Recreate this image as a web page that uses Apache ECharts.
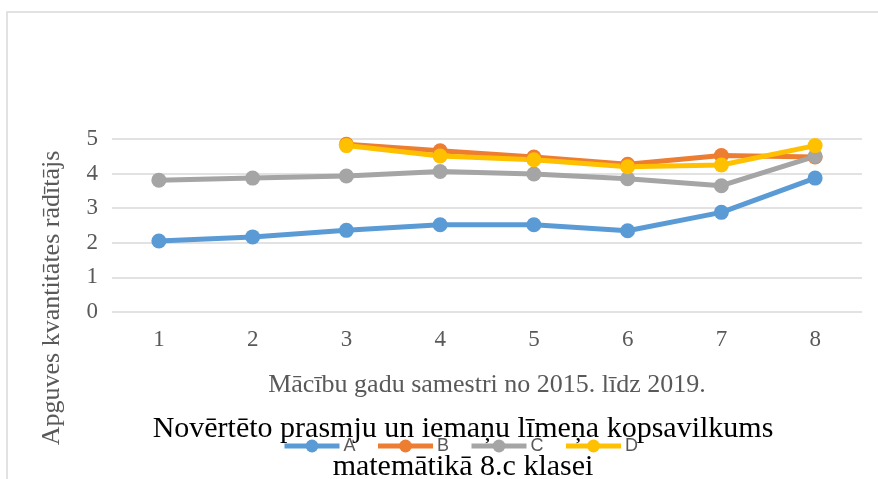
<!DOCTYPE html>
<html>
<head>
<meta charset="utf-8">
<script src="https://cdn.jsdelivr.net/npm/echarts@6/dist/echarts.min.js"></script>
<style>
  html, body { margin: 0; padding: 0; background: #fff; }
  #chart { width: 878px; height: 479px; }
</style>
</head>
<body>
<div id="chart"></div>
<script>
// ── Data ─────────────────────────────────────────────────────
const semesters = ['1', '2', '3', '4', '5', '6', '7', '8'];
const seriesA = [2.05, 2.17, 2.36, 2.52, 2.52, 2.35, 2.88, 3.87];
const seriesB = [null, null, 4.85, 4.66, 4.48, 4.27, 4.52, 4.48];
const seriesC = [3.81, 3.87, 3.93, 4.06, 3.99, 3.85, 3.65, 4.50];
const seriesD = [null, null, 4.81, 4.51, 4.40, 4.20, 4.25, 4.81];
const yTicks  = [0, 1, 2, 3, 4, 5];

const COLORS = { A: '#5B9BD5', B: '#ED7D31', C: '#A5A5A5', D: '#FFC000' };
const SERIF  = '"Liberation Serif", "DejaVu Serif", serif';

const chart = echarts.init(document.getElementById('chart'), null, { renderer: 'canvas' });

function lineSeries(name, data) {
  return {
    name, type: 'line', data,
    symbol: 'circle', symbolSize: 15,
    connectNulls: false,
    lineStyle: { width: 5, color: COLORS[name] },
    itemStyle: { color: COLORS[name] },
    emphasis: { disabled: true },
  };
}

chart.setOption({
  backgroundColor: '#fff',
  animation: false,
  graphic: [{
    type: 'rect', silent: true, z: -1,
    shape: { x: 7, y: 12, width: 900, height: 500 },
    style: { fill: 'none', stroke: '#D9D9D9', lineWidth: 1.5 },
  }],
  title: {
    text: 'Novērtēto prasmju un iemaņu līmeņa kopsavilkums\nmatemātikā 8.c klasei',
    left: 458, top: 405, textAlign: 'center',
    textStyle: { fontFamily: SERIF, fontSize: 30, fontWeight: 'normal', color: '#000', lineHeight: 38 },
  },
  legend: {
    data: ['A', 'B', 'C', 'D'],
    left: 282, top: 437, padding: 0,
    itemWidth: 55, itemHeight: 16, itemGap: 20,
    lineStyle: { width: 5 },
    textStyle: { fontFamily: '"Liberation Sans", sans-serif', fontSize: 18, color: '#595959', padding: [0, 0, 0, -1] },
  },
  grid: { left: 112, right: 16, top: 139, bottom: 167 },
  xAxis: {
    type: 'category', data: semesters, boundaryGap: true,
    name: 'Mācību gadu samestri no 2015. līdz 2019.',
    nameLocation: 'middle', nameGap: 60,
    nameTextStyle: { fontFamily: SERIF, fontSize: 26, color: '#595959' },
    axisLine: { show: false }, axisTick: { show: false },
    axisLabel: { fontFamily: SERIF, fontSize: 23, color: '#595959', margin: 16 },
  },
  yAxis: {
    type: 'value', min: yTicks[0], max: yTicks[yTicks.length - 1], interval: 1,
    name: 'Apguves kvantitātes rādītājs',
    nameLocation: 'middle', nameGap: 47, nameRotate: 90,
    nameTextStyle: { fontFamily: SERIF, fontSize: 26, color: '#595959', padding: [0, 0, 0, -145] },
    axisLine: { show: false }, axisTick: { show: false },
    axisLabel: { fontFamily: SERIF, fontSize: 23, color: '#595959', margin: 14 },
    splitLine: { lineStyle: { color: '#D9D9D9', width: 1.5 } },
  },
  series: [
    lineSeries('A', seriesA),
    lineSeries('B', seriesB),
    lineSeries('C', seriesC),
    lineSeries('D', seriesD),
  ],
});
</script>
</body>
</html>
